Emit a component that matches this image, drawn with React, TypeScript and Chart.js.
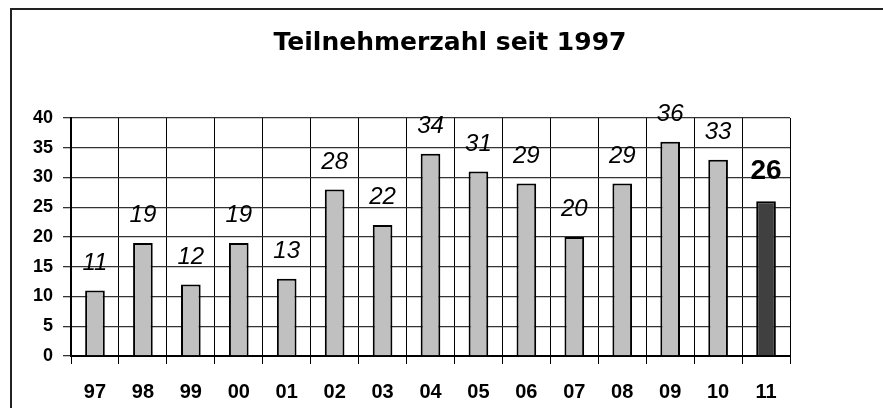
import React, { useEffect, useRef } from "react";
import { Chart, registerables } from "chart.js";

Chart.register(...registerables);

const categories = ["97", "98", "99", "00", "01", "02", "03", "04", "05", "06", "07", "08", "09", "10", "11"];
const values = [11, 19, 12, 19, 13, 28, 22, 34, 31, 29, 20, 29, 36, 33, 26];
const barColors = ["#c0c0c0", "#c0c0c0", "#c0c0c0", "#c0c0c0", "#c0c0c0", "#c0c0c0", "#c0c0c0", "#c0c0c0", "#c0c0c0", "#c0c0c0", "#c0c0c0", "#c0c0c0", "#c0c0c0", "#c0c0c0", "#404040"];
const titleText = "Teilnehmerzahl seit 1997";
const yMin = 0;
const yMax = 40;
const yStep = 5;

const framePlugin = {
  id: "frameTitle",
  beforeDraw(chart: any) {
    const ctx = chart.ctx;
    ctx.save();
    ctx.fillStyle = "#fff";
    ctx.fillRect(0, 0, chart.width, chart.height);
    ctx.fillStyle = "#222";
    ctx.fillRect(10, 8, chart.width - 10, 2);
    ctx.fillRect(10, 8, 2, chart.height - 8);
    ctx.restore();
  },
  afterDraw(chart: any) {
    const ctx = chart.ctx;
    ctx.save();
    ctx.fillStyle = "#000";
    ctx.font = 'bold 25px "DejaVu Sans"';
    ctx.textAlign = "center";
    ctx.textBaseline = "alphabetic";
    ctx.fillText(titleText, 450, 50);
    ctx.restore();
  },
};

const labelPlugin = {
  id: "barLabels",
  afterDatasetsDraw(chart: any) {
    const ctx = chart.ctx;
    const meta = chart.getDatasetMeta(0);
    ctx.save();
    ctx.fillStyle = "#000";
    ctx.textAlign = "center";
    ctx.textBaseline = "middle";
    meta.data.forEach((bar: any, i: number) => {
      const last = i === values.length - 1;
      ctx.font = last ? 'bold 28px "Liberation Sans"' : 'italic 24px "Liberation Sans"';
      ctx.fillText(String(values[i]), bar.x, bar.y - (last ? 30 : 27.5));
    });
    ctx.restore();
  },
};

export default function App() {
  const ref = useRef<HTMLCanvasElement | null>(null);
  useEffect(() => {
    if (!ref.current) return;
    const chart = new Chart(ref.current, {
      type: "bar",
      data: {
        labels: categories,
        datasets: [
          {
            data: values,
            backgroundColor: barColors,
            borderColor: "#000",
            borderWidth: 2,
            barPercentage: 0.41,
            categoryPercentage: 1,
          },
        ],
      },
      options: {
        animation: false,
        responsive: true,
        maintainAspectRatio: false,
        layout: { padding: { top: 118, right: 93, left: 0, bottom: 0 } },
        plugins: {
          legend: { display: false },
          title: { display: false },
          tooltip: { enabled: false },
        },
        scales: {
          x: {
            grid: { color: "#000", lineWidth: 1, tickLength: 8, offset: true },
            border: { color: "#000", width: 2 },
            ticks: {
              color: "#000",
              font: { family: '"Liberation Sans"', size: 20, weight: "bold" },
              padding: 16,
              maxRotation: 0,
              autoSkip: false,
            },
            afterFit(scale: any) {
              scale.height = 52;
            },
          },
          y: {
            min: yMin,
            max: yMax,
            grid: { color: "#333", lineWidth: 1.3, tickLength: 8 },
            border: { color: "#000", width: 2 },
            ticks: {
              stepSize: yStep,
              color: "#000",
              font: { family: '"Liberation Sans"', size: 18, weight: "bold" },
              padding: 10,
            },
            afterFit(scale: any) {
              scale.width = 71;
            },
          },
        },
      },
      plugins: [framePlugin, labelPlugin],
    });
    return () => chart.destroy();
  }, []);
  return (
    <div style={{ position: "absolute", left: 0, top: 0, width: 883, height: 408 }}>
      <canvas ref={ref} />
    </div>
  );
}
